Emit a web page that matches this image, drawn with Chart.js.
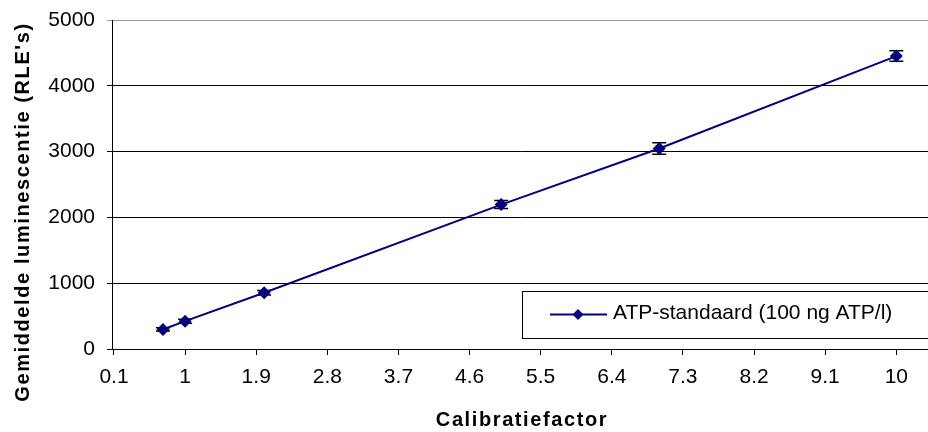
<!DOCTYPE html>
<html>
<head>
<meta charset="utf-8">
<script src="https://cdn.jsdelivr.net/npm/chart.js@4.4.1/dist/chart.umd.min.js"></script>
<style>
  html, body { margin: 0; background: #fff; overflow: hidden; }
  canvas { display: block; }
</style>
</head>
<body>
<!-- canvas a bit wider than the window: the plot runs off the right edge like the original -->
<canvas id="calChart" width="936" height="432"></canvas>
<script>
const calibratieFactor = [0.72, 1, 2, 5, 7, 10];
const luminescentie = [297, 423, 855, 2195, 3047, 4452];
const foutMarge = [25, 30, 35, 60, 88, 80];
const xTickLabels = [0.1, 1, 1.9, 2.8, 3.7, 4.6, 5.5, 6.4, 7.3, 8.2, 9.1, 10];
const seriesName = "ATP-standaard (100 ng ATP/l)";
const xTitle = "Calibratiefactor";
const yTitle = "Gemiddelde luminescentie (RLE's)";

const NAVY = "#000080";
const FONT = "'Liberation Sans', Arial, sans-serif";

// error bars under the markers
const errorBars = {
  id: "errorBars",
  beforeDatasetsDraw(chart) {
    const ctx = chart.ctx;
    const xs = chart.scales.x, ys = chart.scales.y;
    ctx.save();
    ctx.strokeStyle = "#000";
    ctx.lineWidth = 1.5;
    calibratieFactor.forEach((xv, i) => {
      const px = xs.getPixelForValue(xv);
      const top = ys.getPixelForValue(luminescentie[i] + foutMarge[i]);
      const bot = ys.getPixelForValue(luminescentie[i] - foutMarge[i]);
      ctx.beginPath();
      ctx.moveTo(px, top); ctx.lineTo(px, bot);
      ctx.moveTo(px - 7, top); ctx.lineTo(px + 7, top);
      ctx.moveTo(px - 7, bot); ctx.lineTo(px + 7, bot);
      ctx.stroke();
    });
    ctx.restore();
  }
};

// axis titles (spaced bold) and the boxed legend inside the plot
const extras = {
  id: "extras",
  afterDraw(chart) {
    const ctx = chart.ctx;
    ctx.save();
    ctx.fillStyle = "#000";
    ctx.font = "bold 20px " + FONT;
    ctx.letterSpacing = "1.6px";
    ctx.textAlign = "center";
    ctx.textBaseline = "middle";
    ctx.fillText(xTitle, 522, 420);
    ctx.save();
    ctx.translate(23, 212);
    ctx.rotate(-Math.PI / 2);
    ctx.fillText(yTitle, 0, 0);
    ctx.restore();
    ctx.letterSpacing = "0px";

    // legend
    ctx.fillStyle = "#fff";
    ctx.fillRect(522, 291, 420, 47);
    ctx.strokeStyle = "#000";
    ctx.lineWidth = 1;
    ctx.strokeRect(522.5, 291.5, 420, 47);
    ctx.strokeStyle = NAVY;
    ctx.lineWidth = 2;
    ctx.beginPath();
    ctx.moveTo(550, 314.5); ctx.lineTo(607, 314.5);
    ctx.stroke();
    ctx.fillStyle = NAVY;
    ctx.beginPath();
    ctx.moveTo(578, 309); ctx.lineTo(583.5, 314.5); ctx.lineTo(578, 320); ctx.lineTo(572.5, 314.5);
    ctx.closePath();
    ctx.fill();
    ctx.fillStyle = "#000";
    ctx.font = "21px " + FONT;
    ctx.textAlign = "left";
    ctx.fillText(seriesName, 613, 313);
    ctx.restore();
  }
};

new Chart(document.getElementById("calChart"), {
  type: "scatter",
  data: {
    datasets: [{
      label: seriesName,
      data: calibratieFactor.map((x, i) => ({ x: x, y: luminescentie[i] })),
      showLine: true,
      borderColor: NAVY,
      borderWidth: 2,
      backgroundColor: NAVY,
      pointStyle: "rectRot",
      pointRadius: 6.5,
      pointBorderWidth: 0,
      tension: 0
    }]
  },
  options: {
    responsive: false,
    animation: false,
    layout: { padding: { top: 20, right: 0, left: 0, bottom: 0 } },
    plugins: {
      legend: { display: false },
      tooltip: { enabled: false }
    },
    scales: {
      x: {
        type: "linear",
        min: 0.075,
        max: 10.42,
        afterBuildTicks: s => { s.ticks = xTickLabels.map(v => ({ value: v })); },
        afterFit: s => { s.height = 83; s.paddingLeft = 0; s.paddingRight = 0; },
        ticks: {
          color: "#000",
          font: { family: FONT, size: 21 },
          padding: 10,
          maxRotation: 0,
          autoSkip: false,
          callback: v => String(v)
        },
        grid: { drawOnChartArea: false, drawTicks: true, tickLength: 6, color: "#000" },
        border: { color: "#000", width: 1 }
      },
      y: {
        min: 0,
        max: 5000,
        afterFit: s => { s.width = 112; s.paddingTop = 0; s.paddingBottom = 0; },
        ticks: {
          stepSize: 1000,
          color: "#000",
          font: { family: FONT, size: 21 },
          padding: 12,
          callback: v => String(v)
        },
        grid: {
          color: c => (c.tick && c.tick.value === 5000 ? "#999" : "#000"),
          lineWidth: 1,
          tickLength: 5
        },
        border: { color: "#000", width: 1 }
      }
    }
  },
  plugins: [errorBars, extras]
});
</script>
</body>
</html>
